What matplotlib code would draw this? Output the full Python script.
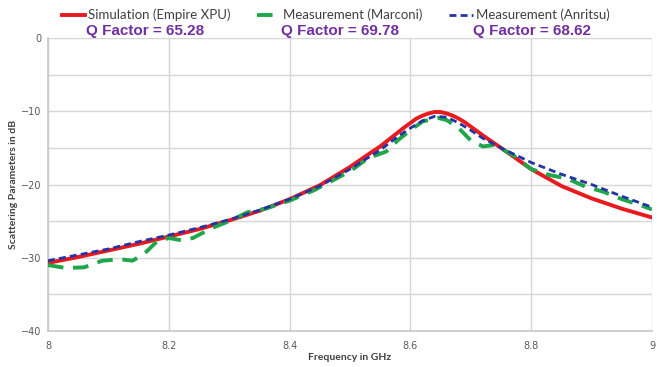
import numpy as np
import matplotlib
matplotlib.use("Agg")
import matplotlib.pyplot as plt
from matplotlib.ticker import MultipleLocator

# Simulation (Empire XPU)
sim_f = [8.00, 8.05, 8.10, 8.15, 8.20, 8.25, 8.30, 8.35, 8.40, 8.45, 8.50, 8.53, 8.55, 8.57, 8.59,
         8.60, 8.61, 8.62, 8.63, 8.64, 8.65, 8.66, 8.67, 8.68, 8.69, 8.70, 8.72, 8.75, 8.80,
         8.85, 8.90, 8.95, 9.00]
sim_db = [-30.7, -29.9, -29.0, -28.1, -27.1, -26.1, -24.9, -23.6, -22.0, -20.1, -17.6, -15.9, -14.8, -13.5, -12.2,
          -11.6, -11.0, -10.6, -10.3, -10.1, -10.1, -10.3, -10.6, -11.0, -11.5, -12.1, -13.3, -15.0, -17.9,
          -20.2, -21.9, -23.3, -24.5]

# Measurement (Marconi)
mar_f = [8.00, 8.03, 8.06, 8.09, 8.12, 8.14, 8.16, 8.18, 8.20, 8.22, 8.24, 8.27, 8.30, 8.33,
         8.36, 8.40, 8.44, 8.47, 8.50, 8.53, 8.56, 8.58, 8.60, 8.62, 8.645, 8.66, 8.68, 8.70,
         8.72, 8.74, 8.77, 8.80, 8.83, 8.86, 8.89, 8.92, 8.95, 8.98, 9.00]
mar_db = [-31.0, -31.4, -31.3, -30.4, -30.2, -30.4, -29.4, -27.8, -27.3, -27.6, -27.3, -26.0, -25.0, -23.8,
          -23.3, -22.2, -20.8, -19.5, -18.2, -16.4, -15.5, -13.9, -12.6, -11.4, -10.9, -11.2, -12.3, -14.0,
          -14.8, -14.6, -16.0, -17.9, -18.7, -19.2, -20.3, -21.0, -22.0, -22.8, -23.4]

# Measurement (Anritsu)
anr_f = [8.00, 8.05, 8.10, 8.15, 8.20, 8.25, 8.30, 8.35, 8.40, 8.45, 8.50, 8.55, 8.58,
         8.60, 8.62, 8.64, 8.66, 8.68, 8.70, 8.72, 8.75, 8.80, 8.85, 8.90, 8.95, 9.00]
anr_db = [-30.4, -29.6, -28.8, -27.8, -26.9, -25.9, -24.8, -23.5, -22.0, -20.2, -17.9, -15.3, -13.4,
          -12.3, -11.3, -10.7, -10.8, -11.6, -12.6, -13.7, -15.0, -17.0, -18.6, -20.0, -21.6, -23.1]

labels = ["Simulation (Empire XPU)", "Measurement (Marconi)", "Measurement (Anritsu)"]
q_factors = ["Q Factor = 65.28", "Q Factor = 69.78", "Q Factor = 68.62"]

fig = plt.figure(figsize=(6.67, 3.67), dpi=100)
ax = fig.add_axes([0.072, 0.098, 0.9055, 0.7985])

ax.plot(sim_f, sim_db, color="#e8191f", lw=2.8, label=labels[0], zorder=3)
ax.plot(mar_f, mar_db, color="#1fa64a", lw=2.8, ls=(0, (4, 2.5)), label=labels[1], zorder=4)
ax.plot(anr_f, anr_db, color="#2434a6", lw=2.0, ls=(0, (2.5, 1.5)), label=labels[2], zorder=5)

ax.set_xlim(8, 9)
ax.set_ylim(-40, 0)
ax.yaxis.set_major_locator(MultipleLocator(10))
ax.yaxis.set_minor_locator(MultipleLocator(5))
ax.set_xticks([8, 8.2, 8.4, 8.6, 8.8, 9])
ax.set_xticklabels(["8", "8.2", "8.4", "8.6", "8.8", "9"])
ax.grid(True, which="both", color="#d6d6d6", lw=1.0, zorder=0)
ax.set_axisbelow(True)
for s in ["top", "right"]:
    ax.spines[s].set_visible(False)
for s in ["left", "bottom"]:
    ax.spines[s].set_color("#c8c8c8")
    ax.spines[s].set_linewidth(1.2)
ax.tick_params(axis="both", which="both", length=0, labelsize=7, colors="#595959", pad=5)
ax.tick_params(axis="x", pad=7)

ax.set_xlabel("Frequency in GHz", fontsize=7.5, fontweight="bold", color="#404040", family="Lato")
ax.set_ylabel("Scattering Parameters in dB", fontsize=7.5, fontweight="bold", color="#404040",
              family="Lato")
ax.xaxis.set_label_coords(0.5, -0.075)
ax.yaxis.set_label_coords(-0.05, 0.5)

leg = fig.legend(loc="center", bbox_to_anchor=(0.503, 0.959), ncol=3, frameon=False,
                 handlelength=1.8, columnspacing=2.0, handletextpad=0.2,
                 prop={"family": "Lato", "size": 9.5})
for t in leg.get_texts():
    t.set_color("#404040")

for xc, q in zip([0.217, 0.51, 0.798], q_factors):
    fig.text(xc, 0.916, q, ha="center", va="center", color="#7030a0", fontsize=11,
             fontweight="bold", family="Liberation Sans")

fig.savefig("out.png", dpi=100)
